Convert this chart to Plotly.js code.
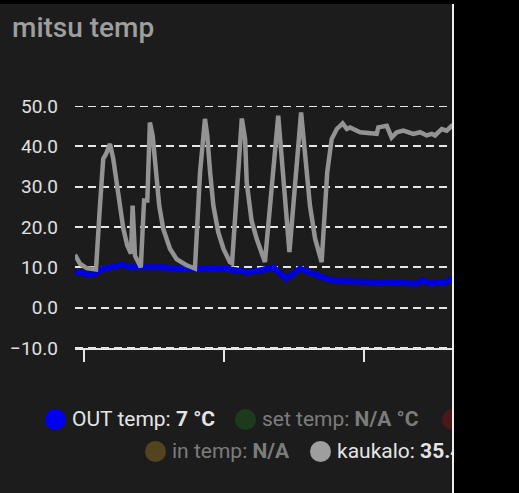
<!DOCTYPE html>
<html>
<head>
<meta charset="utf-8">
<script src="https://cdn.plot.ly/plotly-3.0.1.min.js"></script>
<style>
  html, body { margin: 0; padding: 0; background: #000; width: 519px; height: 493px; overflow: hidden; }
  #card { position: absolute; left: 0; top: 4px; width: 452px; height: 489px; background: #1c1c1c; overflow: hidden; }
  #edge { position: absolute; left: 452px; top: 4px; width: 2px; height: 489px; background: #eeeeee; }
  #chart { position: absolute; left: 0; top: 0; width: 646px; height: 489px; }
  .item { position: absolute; display: flex; align-items: center; font-family: Roboto, sans-serif; font-size: 21px; white-space: nowrap; line-height: 1; }
  .dot { width: 21px; height: 21px; border-radius: 50%; margin-right: 6px; flex: none; }
  .on { color: #e4e4e4; }
  .off { color: #7c7c7c; }
  b { font-weight: 700; }
</style>
</head>
<body>
<div id="card">
  <div id="chart"></div>
  <div class="item on" style="left:45px; top:405px;"><span class="dot" style="background:#0000ee"></span><span>OUT temp: <b>7 °C</b></span></div>
  <div class="item off" style="left:235px; top:405px;"><span class="dot" style="background:#1d3a1d"></span><span>set temp: <b>N/A °C</b></span></div>
  <div class="item off" style="left:442px; top:405px;"><span class="dot" style="background:#4a1818"></span></div>
  <div class="item off" style="left:145px; top:437px;"><span class="dot" style="background:#54431f"></span><span>in temp: <b>N/A</b></span></div>
  <div class="item on" style="left:310px; top:437px;"><span class="dot" style="background:#9e9e9e"></span><span>kaukalo: <b>35.4 °C</b></span></div>
</div>
<div id="edge"></div>
<script>
// time in hours since the start of the window
const outHours = [0.00, 0.77, 1.20, 2.06, 2.36, 3.64, 5.06, 5.79, 6.52, 7.50, 8.06, 8.49, 9.07, 9.64, 10.79, 11.22, 13.07, 14.65, 14.92, 15.22, 15.65, 15.77, 16.07, 17.0, 19.0, 21.0, 23.0, 24.0];
const outTemp  = [8.8, 8.2, 9.6, 10.7, 10.0, 10.0, 9.6, 9.8, 9.6, 8.8, 9.4, 10.0, 7.2, 9.7, 7.2, 6.6, 6.3, 6.0, 6.8, 6.0, 6.3, 6.0, 6.9, 7.0, 7.2, 7.0, 6.8, 7.0];

const kaukaloHours = [0.00, 0.21, 0.50, 0.90, 1.07, 1.21, 1.33, 1.50, 1.64, 1.79, 1.93, 2.07, 2.24, 2.40, 2.47, 2.57, 2.82, 2.96, 3.10, 3.21, 3.33, 3.47, 3.61, 3.78, 4.07, 4.36, 4.79, 5.14, 5.36, 5.57, 5.67, 5.79, 5.93, 6.14, 6.36, 6.64, 6.73, 7.15, 7.29, 7.36, 7.57, 7.79, 8.14, 8.71, 8.86, 9.00, 9.19, 9.69, 9.86, 10.07, 10.29, 10.57, 10.81, 11.00, 11.22, 11.47, 11.65, 11.79, 12.22, 12.64, 12.93, 13.00, 13.36, 13.57, 13.79, 14.07, 14.50, 14.79, 15.07, 15.29, 15.43, 15.72, 15.93, 16.15, 17.0, 18.5, 20.0, 21.5, 23.0, 24.0];
const kaukalo = [13.1, 10.9, 9.8, 9.5, 25.3, 36.9, 38.1, 40.6, 36.9, 30.3, 24.5, 19.6, 15.4, 13.4, 25.3, 12.9, 10.0, 26.6, 26.6, 45.9, 42.6, 33.6, 25.3, 19.6, 14.6, 12.0, 10.5, 9.7, 33.6, 46.8, 42.6, 33.6, 25.3, 18.7, 14.6, 11.3, 11.0, 46.9, 41.8, 31.0, 21.5, 17.0, 11.3, 47.6, 37.7, 25.3, 13.8, 48.4, 37.7, 25.3, 17.1, 11.3, 33.6, 41.8, 44.3, 45.7, 44.3, 44.7, 43.5, 43.1, 43.1, 44.7, 45.1, 42.2, 43.5, 43.9, 43.1, 43.5, 42.7, 43.1, 42.7, 44.3, 43.9, 45.1, 44.2, 43.8, 44.3, 42.5, 38.5, 35.4];

const yTicks = [-10, 0, 10, 20, 30, 40, 50];
const xTicks = [0.39, 6.39, 12.39, 18.39];

const traces = [
  { x: outHours, y: outTemp, type: 'scatter', mode: 'lines', name: 'OUT temp',
    line: { color: '#0000dd', width: 6 } },
  { x: kaukaloHours, y: kaukalo, type: 'scatter', mode: 'lines', name: 'kaukalo',
    line: { color: '#939393', width: 4.5 } }
];

const gridDash = '8px,5px';
const edgeLines = [yTicks[0], yTicks[yTicks.length - 1]].map(v => ({
  type: 'line', xref: 'paper', yref: 'y', x0: 0, x1: 1, y0: v, y1: v, layer: 'below',
  line: { color: '#e6e6e6', width: 2, dash: gridDash }
}));

const layout = {
  width: 646, height: 489,
  margin: { l: 75, r: 11, t: 102, b: 145 },
  paper_bgcolor: '#1c1c1c', plot_bgcolor: '#1c1c1c',
  showlegend: false,
  font: { family: 'Roboto, sans-serif', color: '#e0e0e0' },
  title: { text: 'mitsu temp', xref: 'container', yref: 'container', x: 12 / 646, xanchor: 'left',
           y: 1 - 23 / 489, yanchor: 'middle', font: { family: 'Roboto, sans-serif', size: 28, color: '#9e9e9e', weight: 500 } },
  xaxis: { range: [0, 24], showgrid: false, zeroline: false, showticklabels: false,
           showline: true, linecolor: '#e6e6e6', linewidth: 2,
           ticks: 'outside', tickvals: xTicks, ticklen: 12, tickwidth: 1.5, tickcolor: '#e6e6e6' },
  yaxis: { range: [-10, 50], tickvals: yTicks, tickformat: '.1f', zeroline: false, showline: false,
           showgrid: true, gridcolor: '#e6e6e6', gridwidth: 2, griddash: gridDash,
           ticks: '', ticklabelstandoff: 16, tickfont: { size: 19, color: '#e0e0e0' } },
  shapes: edgeLines
};

Plotly.newPlot('chart', traces, layout, { staticPlot: true, displayModeBar: false });
</script>
</body>
</html>
